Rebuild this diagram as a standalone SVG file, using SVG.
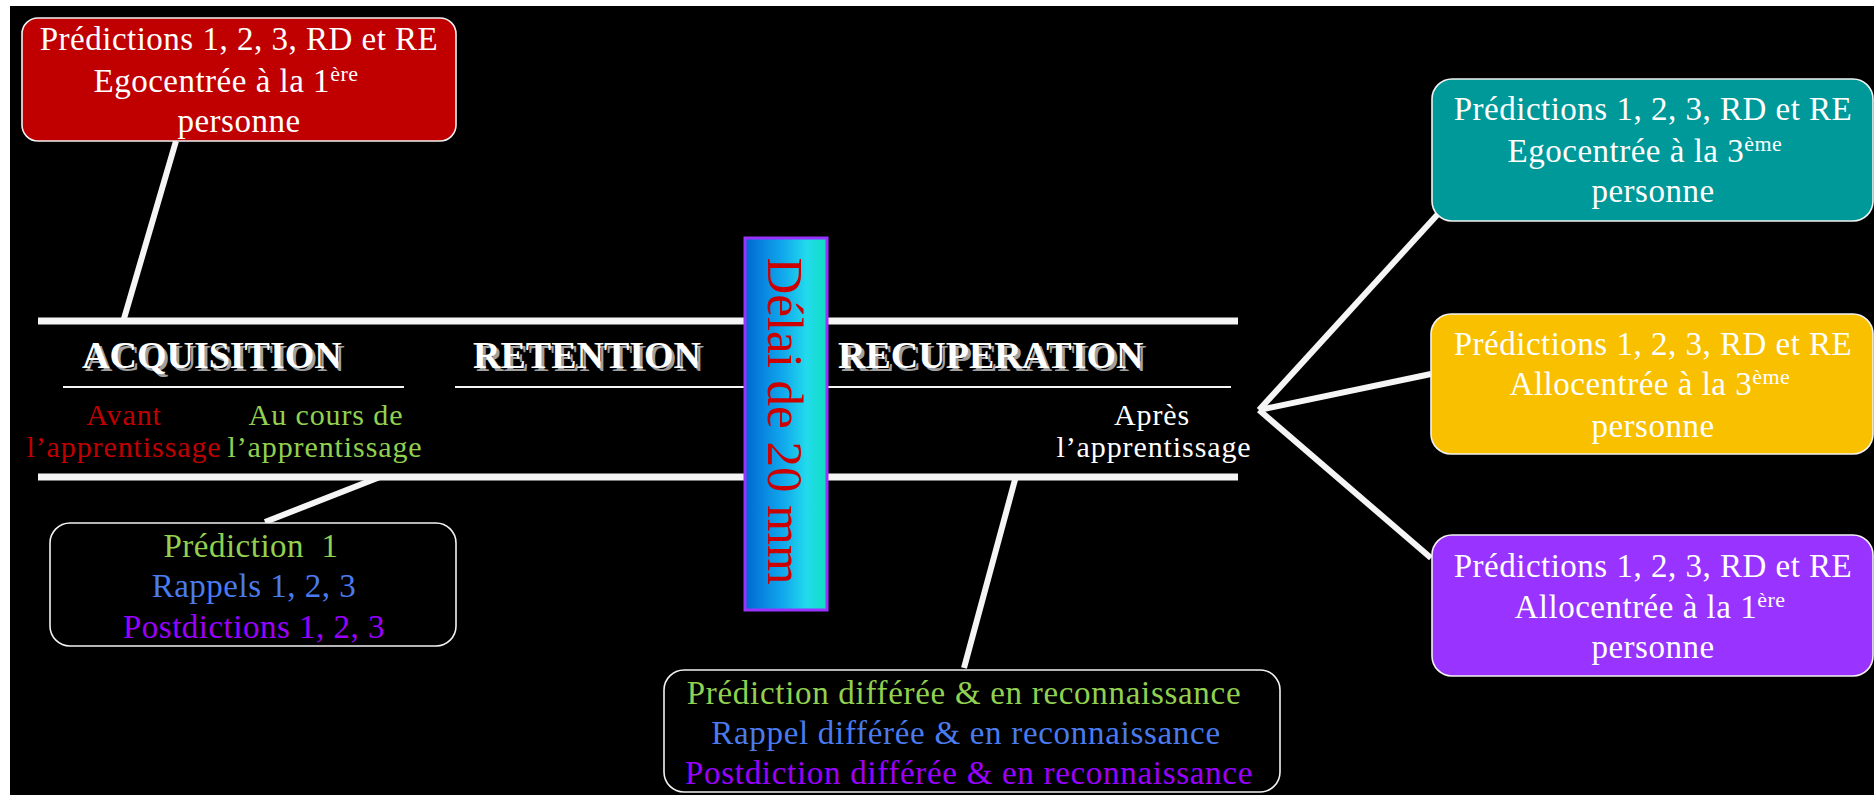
<svg xmlns="http://www.w3.org/2000/svg" width="1874" height="795" viewBox="0 0 1874 795">
<defs>
<linearGradient id="gDelai" x1="0" y1="0" x2="1" y2="0">
<stop offset="0" stop-color="#0068D2"/>
<stop offset="0.45" stop-color="#10A6EC"/>
<stop offset="0.75" stop-color="#22DAEC"/>
<stop offset="1" stop-color="#10E0C0"/>
</linearGradient>
<style>
text{font-family:"Liberation Serif","Times New Roman",serif;}
.box{stroke:#F2F2F2;stroke-width:1.6;}
.t33{font-size:33px;letter-spacing:0.5px;text-anchor:middle;}
.w{fill:#FFFFFF;}
.sup{font-size:22px;}
.head{font-size:38px;font-weight:bold;}
.headsh{fill:#A0A0A0;}
.headfg{fill:#FFFFFF;}
.sub{font-size:30px;letter-spacing:0.9px;text-anchor:middle;}
.conn{stroke:#F5F5F5;stroke-width:6;fill:none;}
.rule{stroke:#F5F5F5;stroke-width:7;}
.thin{stroke:#F5F5F5;stroke-width:2;}
.green{fill:#92D050;}
.blue{fill:#4A7BEE;}
.purple{fill:#9900FF;}
.red{fill:#C00000;}
</style>
</defs>
<rect x="0" y="0" width="1874" height="795" fill="#FFFFFF"/>
<rect x="10" y="6" width="1864" height="789" fill="#000000"/>

<g id="connectors">
<line class="rule" x1="38" y1="321" x2="1238" y2="321"/>
<line class="rule" x1="38" y1="477" x2="1238" y2="477"/>
<line class="thin" x1="63" y1="387" x2="404" y2="387"/>
<line class="thin" x1="455" y1="387" x2="745" y2="387"/>
<line class="thin" x1="827" y1="387" x2="1231" y2="387"/>
<line class="conn" x1="176" y1="141" x2="123" y2="322"/>
<line class="conn" x1="380" y1="477" x2="265" y2="522"/>
<line class="conn" x1="1016" y1="476" x2="964" y2="668"/>
<line class="conn" x1="1259" y1="410" x2="1438" y2="214"/>
<line class="conn" x1="1259" y1="410" x2="1431" y2="374"/>
<line class="conn" x1="1259" y1="410" x2="1431" y2="558"/>
</g>

<g id="delai">
<rect x="745" y="238" width="82" height="372" fill="url(#gDelai)" stroke="#9933FF" stroke-width="3"/>
<text transform="translate(768,421) rotate(90)" font-size="51" fill="#CC0000" text-anchor="middle">Délai de 20 mm</text>
</g>

<g id="acquisition">
<text class="head headsh" x="85" y="371">ACQUISITION</text>
<text class="head headfg" x="82" y="368">ACQUISITION</text>
</g>
<g id="retention">
<text class="head headsh" x="476" y="371">RETENTION</text>
<text class="head headfg" x="473" y="368">RETENTION</text>
</g>
<g id="recuperation">
<text class="head headsh" x="841" y="371">RECUPERATION</text>
<text class="head headfg" x="838" y="368">RECUPERATION</text>
</g>

<g id="avant">
<text class="sub red" x="124" y="425">Avant</text>
<text class="sub red" x="124" y="457">l’apprentissage</text>
</g>
<g id="aucours">
<text class="sub green" x="326" y="425">Au cours de</text>
<text class="sub green" x="325" y="457">l’apprentissage</text>
</g>
<g id="apres">
<text class="sub w" x="1152" y="425">Après</text>
<text class="sub w" x="1154" y="457">l’apprentissage</text>
</g>

<g id="box-ego1">
<rect class="box" x="22" y="18" width="434" height="123" rx="16" fill="#C00000"/>
<text class="t33 w" x="239" y="50">Prédictions 1, 2, 3, RD et RE</text>
<text class="t33 w" x="226" y="92">Egocentrée à la 1<tspan class="sup" dy="-11">ère</tspan></text>
<text class="t33 w" x="239" y="132">personne</text>
</g>

<g id="box-ego3">
<rect class="box" x="1432" y="79" width="441" height="142" rx="20" fill="#009999"/>
<text class="t33 w" x="1653" y="120">Prédictions 1, 2, 3, RD et RE</text>
<text class="t33 w" x="1645" y="162">Egocentrée à la 3<tspan class="sup" dy="-11">ème</tspan></text>
<text class="t33 w" x="1653" y="202">personne</text>
</g>

<g id="box-allo3">
<rect class="box" x="1431" y="314" width="442" height="140" rx="20" fill="#F9C000"/>
<text class="t33 w" x="1653" y="355">Prédictions 1, 2, 3, RD et RE</text>
<text class="t33 w" x="1650" y="395">Allocentrée à la 3<tspan class="sup" dy="-11">ème</tspan></text>
<text class="t33 w" x="1653" y="437">personne</text>
</g>

<g id="box-allo1">
<rect class="box" x="1432" y="535" width="441" height="141" rx="20" fill="#9933FF"/>
<text class="t33 w" x="1653" y="577">Prédictions 1, 2, 3, RD et RE</text>
<text class="t33 w" x="1650" y="618">Allocentrée à la 1<tspan class="sup" dy="-11">ère</tspan></text>
<text class="t33 w" x="1653" y="658">personne</text>
</g>

<g id="box-acq">
<rect class="box" x="50" y="523" width="406" height="123" rx="20" fill="#000000"/>
<text class="t33 green" x="251" y="557" xml:space="preserve">Prédiction  1</text>
<text class="t33 blue" x="254" y="597">Rappels 1, 2, 3</text>
<text class="t33 purple" x="254" y="638">Postdictions 1, 2, 3</text>
</g>

<g id="box-rec">
<rect class="box" x="664" y="670" width="616" height="122" rx="20" fill="#000000"/>
<text class="t33 green" x="964" y="704" style="letter-spacing:0.7px">Prédiction différée &amp; en reconnaissance</text>
<text class="t33 blue" x="966" y="744" style="letter-spacing:0.7px">Rappel différée &amp; en reconnaissance</text>
<text class="t33 purple" x="969" y="784" style="letter-spacing:0.7px">Postdiction différée &amp; en reconnaissance</text>
</g>
</svg>
